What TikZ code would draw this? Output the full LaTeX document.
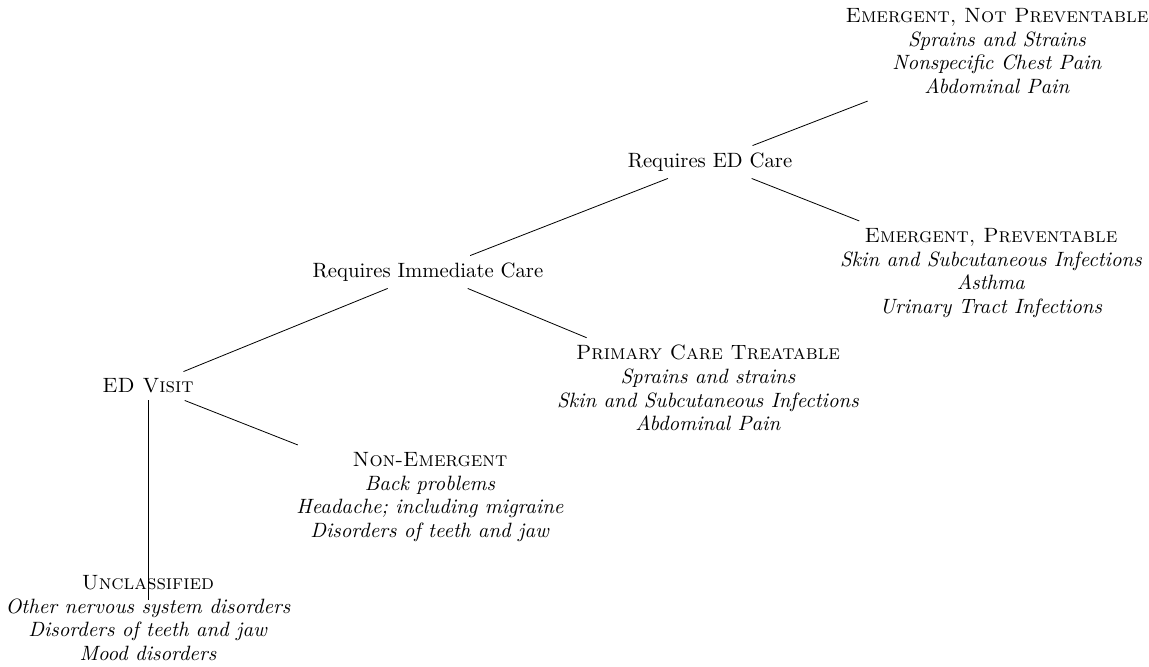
\documentclass[tikz,border=0pt]{standalone}
\begin{document}
\begin{tikzpicture}[x=0.495pt,y=-0.495pt,
  cat/.style={align=center, inner sep=3.33pt, font=\fontsize{10.25}{11.8}\selectfont},
  edge/.style={draw, line width=0.4pt}]
\useasboundingbox (0,0) rectangle (1149,666);
\node[cat] (ed) at (148,386) {\textsc{ED Visit}};
\node[cat] (ric) at (428,272) {Requires Immediate Care};
\node[cat] (red) at (710,162) {Requires ED Care};
\node[cat] (enp) at (997,51) {\textsc{Emergent, Not Preventable}\\ \textit{Sprains and Strains}\\ \textit{Nonspecific Chest Pain}\\ \textit{Abdominal Pain}};
\node[cat] (ep) at (991,273) {\textsc{Emergent, Preventable}\\ \textit{Skin and Subcutaneous Infections}\\ \textit{Asthma}\\ \textit{Urinary Tract Infections}};
\node[cat] (pct) at (708,388) {\textsc{Primary Care Treatable}\\ \textit{Sprains and strains}\\ \textit{Skin and Subcutaneous Infections}\\ \textit{Abdominal Pain}};
\node[cat] (ne) at (430,497) {\textsc{Non-Emergent}\\ \textit{Back problems}\\ \textit{Headache; including migraine}\\ \textit{Disorders of teeth and jaw}};
\node[cat] (unc) at (148,618) {\textsc{Unclassified}\\ \textit{Other nervous system disorders}\\ \textit{Disorders of teeth and jaw}\\ \textit{Mood disorders}};
\draw[edge] (ed) -- (ric);
\draw[edge] (ed) -- (ne);
\draw[edge, shorten >=-16pt] (ed) -- (unc);
\draw[edge] (ric) -- (red);
\draw[edge] (ric) -- (pct);
\draw[edge] (red) -- (enp);
\draw[edge] (red) -- (ep);
\end{tikzpicture}
\end{document}
